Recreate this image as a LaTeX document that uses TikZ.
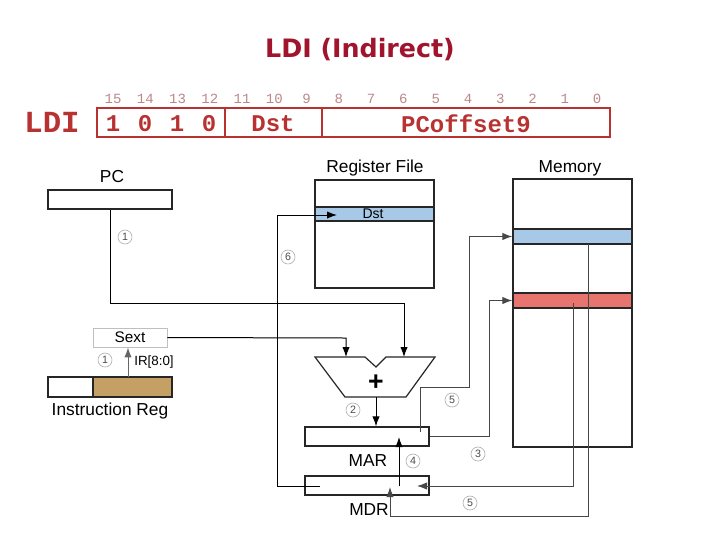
\documentclass[tikz,border=0pt]{standalone}
\usepackage{fontspec}
\setmainfont{Liberation Sans}
\newfontfamily\monofont{Liberation Mono}
\newfontfamily\titlefont{DejaVu Sans}
\usetikzlibrary{arrows.meta,fit,calc}
\definecolor{titlecol}{RGB}{160,20,45}
\definecolor{instrcol}{RGB}{185,50,50}
\definecolor{bitcol}{RGB}{190,135,135}
\definecolor{rowblue}{RGB}{168,200,232}
\definecolor{rowred}{RGB}{232,116,112}
\definecolor{irtan}{RGB}{196,160,100}
\begin{document}
\begin{tikzpicture}[x=0.75pt,y=-0.75pt,
  box/.style={draw=black!85, line width=0.9pt, inner sep=0pt},
  ibox/.style={draw=instrcol, line width=0.9pt, inner sep=0pt},
  arr/.style={-{Latex[length=7.5pt,width=5.5pt]}, line width=0.75pt},
  wire/.style={line width=0.75pt},
  grey/.style={draw=black!72},
  circ/.style={circle, draw=gray!60, line width=0.5pt, inner sep=0pt, minimum size=10.5pt, font=\fontsize{8}{8}\selectfont, text=black!70},
  lbl/.style={font=\fontsize{13}{13}\selectfont, inner sep=0pt},
  field/.style={font=\monofont\bfseries\fontsize{18}{18}\selectfont, text=instrcol, inner sep=0pt},
  bitnum/.style={font=\monofont\fontsize{10.5}{10.5}\selectfont, text=bitcol, inner sep=0pt}]
\useasboundingbox (0,0) rectangle (720,540);
\fill[white] (0,0) rectangle (720,540);

% title
\node[font=\titlefont\bfseries\fontsize{19}{19}\selectfont, text=titlecol] (title) at (360,50) {LDI (Indirect)};

% instruction format
\node[font=\monofont\bfseries\fontsize{23}{23}\selectfont, text=instrcol, inner sep=0pt] (ldi) at (52,122) {LDI};
\node[ibox, fit={(97,108)(610,137)}] (instr) {};
\draw[draw=instrcol, line width=0.9pt] (225,108) -- (225,137);
\draw[draw=instrcol, line width=0.9pt] (322,108) -- (322,137);
\foreach \i in {0,...,15}
  \node[bitnum] (bit\i) at ({113+(15-\i)*32.27},99) {\i};
\node[field] (op15) at (113,124) {1};
\node[field] (op14) at (145,124) {0};
\node[field] (op13) at (177,124) {1};
\node[field] (op12) at (209,124) {0};
\node[field] (fdst) at (273,124) {Dst};
\node[field] (foff) at (466,124) {PCoffset9};

% PC
\node[box, fit={(48,190)(172,209)}] (pc) {};
\node[lbl] (pclbl) at (112,177) {PC};

% Sext and IR
\node[draw=gray!50, line width=0.7pt, inner sep=0pt, fit={(93,328)(167,347)}] (sext) {};
\node[font=\fontsize{11.5}{11.5}\selectfont] (sexttxt) at (sext.center) {Sext};
\node[box, fill=white, fit={(48,377)(93,397)}] (irL) {};
\node[box, fill=irtan, fit={(93,377)(172,397)}] (irR) {};
\node[lbl] (irlbl) at (110,411) {Instruction Reg};
\node[font=\fontsize{10}{10}\selectfont, inner sep=0pt] (irbits) at (154,362) {IR[8:0]};

% Register file
\node[box, fit={(315,180)(434,288)}] (rf) {};
\node[box, fill=rowblue, fit={(315,207)(434,221)}] (rfdst) {};
\node[font=\fontsize{10.5}{10.5}\selectfont, inner sep=0pt] (dsttxt) at (373,214) {Dst};
\node[lbl] (rflbl) at (375,168) {Register File};

% Memory
\node[box, fit={(513,179)(632,447)}] (mem) {};
\node[box, fill=rowblue, fit={(513,229)(632,244)}] (memB) {};
\node[box, fill=rowred, fit={(513,293)(632,308)}] (memR) {};
\node[lbl] (memlbl) at (570,168) {Memory};

% ALU
\draw[box] (315,357) -- (365,357) -- (376,367) -- (386,357) -- (435,357) -- (406,397) -- (345,397) -- cycle;
\coordinate (aluL) at (346,357);
\coordinate (aluR) at (404,357);
\coordinate (aluO) at (376,397);
\node[font=\bfseries\fontsize{20}{20}\selectfont, inner sep=0pt] (plus) at (376,383) {+};

% MAR / MDR
\node[box, fit={(305,427)(429,446)}] (mar) {};
\node[lbl] (marlbl) at (368,461) {MAR};
\node[box, fit={(305,476)(429,495)}] (mdr) {};
\node[lbl] (mdrlbl) at (369,510) {MDR};

% coordinates for connector ends
\coordinate (pcbend) at (404,303);
\coordinate (sextbend) at (346,338);
\coordinate (irtap) at (128,377);
\coordinate (mdrL) at (320,486);
\coordinate (c6) at (277,215);
\coordinate (dstIn) at (337,215);
\coordinate (mdrUp) at (399,486);
\coordinate (marIn) at (399,437);
\coordinate (marT) at (420,432);
\coordinate (b5) at (469,387);
\coordinate (b3) at (489,300.5);
\coordinate (rTap) at (573,303);
\coordinate (mdrR) at (417,486);
\coordinate (bTap) at (588,244);
\coordinate (b5b) at (390,516);
\coordinate (mdrB) at (390,487);

% connectors
\draw[arr] (pc.south) |- (pcbend) -- (aluR);
\draw[arr] (sext.east) -- (sextbend) -- (aluL);
\draw[arr, draw=black!60] (irtap) -- (irtap |- sext.south);
\draw[arr] (aluO) -- (aluO |- mar.north);
\draw[arr] (mdrL) -| (c6) -- (dstIn);
\draw[arr] (mdrUp) -- (marIn);
\draw[arr, grey] (marT) |- (b5) |- (memB.west);
\draw[arr, grey] (mar.east) -| (b3) -- (memR.west);
\draw[arr, grey] (rTap) |- (mdrR);
\draw[arr, grey] (bTap) |- (b5b) -- (mdrB);

% step numbers
\node[circ] (s1a) at (125,237) {1};
\node[circ] (s6) at (288,257) {6};
\node[circ] (s1b) at (105,360) {1};
\node[circ] (s2) at (353,410) {2};
\node[circ] (s5a) at (452,400) {5};
\node[circ] (s4) at (413,461) {4};
\node[circ] (s3) at (478,454) {3};
\node[circ] (s5b) at (470,503) {5};
\end{tikzpicture}
\end{document}
